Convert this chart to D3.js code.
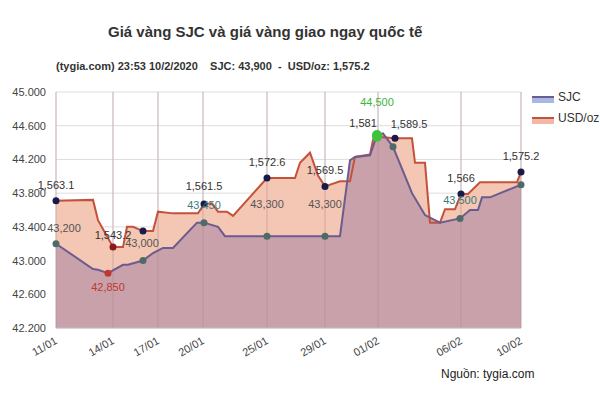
<!DOCTYPE html>
<html><head><meta charset="utf-8">
<script src="https://cdn.jsdelivr.net/npm/d3@7"></script>
<style>body{margin:0;background:#fff}svg{font-family:Arial,"Liberation Sans",sans-serif}</style>
</head><body><svg id="c" width="600" height="400"></svg>
<script>
const tickT=[0,11.4,20.4,29.4,42.2,53.8,64.4,81,93];
const tickLabels=["11/01","14/01","17/01","20/01","25/01","29/01","01/02","06/02","10/02"];
const yTicks=[42.2,42.6,43.0,43.4,43.8,44.2,44.6,45.0];
const usdT=[0,7.4,8.4,11.4,13.4,14.2,15.4,17.4,19.4,20.4,23.4,28.4,29.6,31.2,32.4,34.2,35.4,42.2,47.8,48.8,50.8,52.4,53.8,56.8,58.8,59.8,62.8,63.4,64.2,67.8,71.2,71.8,73.8,74.8,76.8,77.8,79.8,81,82.4,84.8,92.2,93];
const usdV=[43.71,43.72,43.48,43.16,43.16,43.40,43.40,43.35,43.35,43.58,43.56,43.56,43.67,43.68,43.58,43.58,43.53,43.98,43.98,44.16,44.28,44.01,43.88,43.94,43.94,44.23,44.26,44.43,44.47,44.45,44.45,44.16,44.16,43.45,43.45,43.61,43.61,43.79,43.79,43.93,43.93,44.05];
const sjcT=[0,7.4,8.4,10.4,13.4,14.4,17.4,19.4,21.4,23.4,28.2,29.6,32.4,33.8,56.8,58.8,59.8,62.8,64.2,65.4,67.4,71.2,73.8,76.8,80.8,82.8,84.4,85.2,86.8,93];
const sjcV=[43.20,42.90,42.89,42.85,42.95,42.95,43.00,43.09,43.15,43.15,43.45,43.45,43.40,43.29,43.29,44.19,44.23,44.25,44.49,44.51,44.35,43.80,43.54,43.45,43.50,43.60,43.60,43.75,43.75,43.90];
const usdMarks=[[0,"1,563.1"],[11.4,"1,543.2"],[17.4,""],[29.6,"1,561.5"],[42.2,"1,572.6"],[53.8,"1,569.5"],[64.2,"1,581"],[67.8,"1,589.5"],[81,"1,566"],[93,"1,575.2"]];
const sjcMarks=[[0,"43,200"],[10.4,"42,850"],[17.4,"43,000"],[29.6,"43,450"],[42.2,"43,300"],[53.8,"43,300"],[64.2,"44,500"],[67.4,""],[80.8,"43,500"],[93,""]];

const svg=d3.select("#c");
const x=d3.scaleLinear().domain([0,93]).range([56,521]);
const y=d3.scaleLinear().domain([42.2,45.0]).range([328,92]);
const interp=(T,V,t)=>{for(let i=1;i<T.length;i++){if(t<=T[i]){const f=(t-T[i-1])/(T[i]-T[i-1]||1);return V[i-1]+f*(V[i]-V[i-1]);}}return V[V.length-1];};

svg.append("g").selectAll("line").data(yTicks).join("line")
 .attr("x1",56).attr("x2",521).attr("y1",d=>y(d)).attr("y2",d=>y(d)).attr("stroke","#ddd");
svg.append("g").selectAll("line").data(tickT).join("line")
 .attr("y1",92).attr("y2",328).attr("x1",d=>x(d)).attr("x2",d=>x(d)).attr("stroke","#ddd");

const usd=usdT.map((t,i)=>[t,usdV[i]]), sjc=sjcT.map((t,i)=>[t,sjcV[i]]);
const area=d3.area().x(d=>x(d[0])).y0(y(42.2)).y1(d=>y(d[1]));
const line=d3.line().x(d=>x(d[0])).y(d=>y(d[1]));
svg.append("path").attr("d",area(usd)).attr("fill","#f4c6b4");
svg.append("path").attr("d",area(sjc)).attr("fill","#c9a1ab");
svg.append("g").selectAll("line").data(tickT).join("line")
 .attr("y1",92).attr("y2",328).attr("x1",d=>x(d)).attr("x2",d=>x(d)).attr("stroke","#b08890").attr("stroke-opacity",0.5);
svg.append("path").attr("d",line(usd)).attr("fill","none").attr("stroke","#c4523a").attr("stroke-width",2);
svg.append("path").attr("d",line(sjc)).attr("fill","none").attr("stroke","#6b5b8e").attr("stroke-width",2);
svg.append("line").attr("x1",56).attr("x2",521).attr("y1",328).attr("y2",328).attr("stroke","#bbb");

const lbl=(tx,ty,s,c)=>svg.append("text").attr("x",tx).attr("y",ty).attr("text-anchor","middle").attr("font-size",11).attr("fill",c).text(s);
usdMarks.forEach(([t,s],i)=>{const v=interp(usdT,usdV,t);
  const c=i==1?"#8b1a1a":(i==6?"#3cc43c":"#1a1a4a");
  svg.append("circle").attr("cx",x(t)).attr("cy",y(v)).attr("r",i==6?5:3.5).attr("fill",c);
  if(s){let dx=0,dy=-12;
   if(i==1)dy=-8; if(i==3)dy=-14; if(i==6){dx=-14;dy=-10;} if(i==7){dx=14;dy=-10;}
   lbl(x(t)+dx,y(v)+dy,s,"#333");}});
sjcMarks.forEach(([t,s],i)=>{const v=interp(sjcT,sjcV,t);
  const c=i==1?"#c0392b":(i==6?"#3cc43c":"#4f6b68");
  svg.append("circle").attr("cx",x(t)).attr("cy",y(v)).attr("r",i==6?5:3.5).attr("fill",c);
  if(s){let dy=-14,dx=0,col="#555";
   if(i==0){dy=-12;dx=8;}
   if(i==1){dy=18;col="#c0392b";}
   if(i==2){dx=-1;}
   if(i==3){dy=-14;col="#3d7a7a";}
   if(i==4||i==5)dy=-28;
   if(i==6){dy=-29;dx=0;col="#3cb43c";}
   if(i==8){dy=-14;dx=0;col="#3d7a7a";}
   lbl(x(t)+dx,y(v)+dy,s,col);}});

svg.append("g").selectAll("text").data(yTicks).join("text")
 .attr("x",46).attr("y",d=>y(d)+4).attr("text-anchor","end").attr("font-size",11).attr("fill","#444")
 .text(d=>d3.format(".3f")(d));
svg.append("g").selectAll("text").data(tickT).join("text")
 .attr("transform",(d)=>`translate(${x(d)+2},${343}) rotate(-30)`).attr("text-anchor","end").attr("font-size",11).attr("fill","#444")
 .text((d,i)=>tickLabels[i]);

[["SJC","#6b5b8e","#a9b8e0",98],["USD/oz","#c4523a","#f0b8a8",119]].forEach(([n,c,f,yy])=>{
 svg.append("rect").attr("x",532).attr("y",yy-1).attr("width",22).attr("height",6).attr("fill",f);
 svg.append("line").attr("x1",532).attr("x2",554).attr("y1",yy-1).attr("y2",yy-1).attr("stroke",c).attr("stroke-width",2);
 svg.append("text").attr("x",558).attr("y",yy+3).attr("font-size",12).attr("fill","#333").text(n);});

svg.append("text").attr("x",108).attr("y",37).attr("font-size",15).attr("font-weight","bold").attr("fill","#333").text("Giá vàng SJC và giá vàng giao ngay quốc tế");
svg.append("text").attr("x",56).attr("y",70).attr("font-size",11).attr("font-weight","bold").attr("fill","#333").attr("xml:space","preserve")
 .text("(tygia.com) 23:53 10/2/2020    SJC: 43,900  -  USD/oz: 1,575.2");
svg.append("text").attr("x",441).attr("y",378).attr("font-size",12).attr("fill","#222").text("Nguồn: tygia.com");
</script></body></html>
